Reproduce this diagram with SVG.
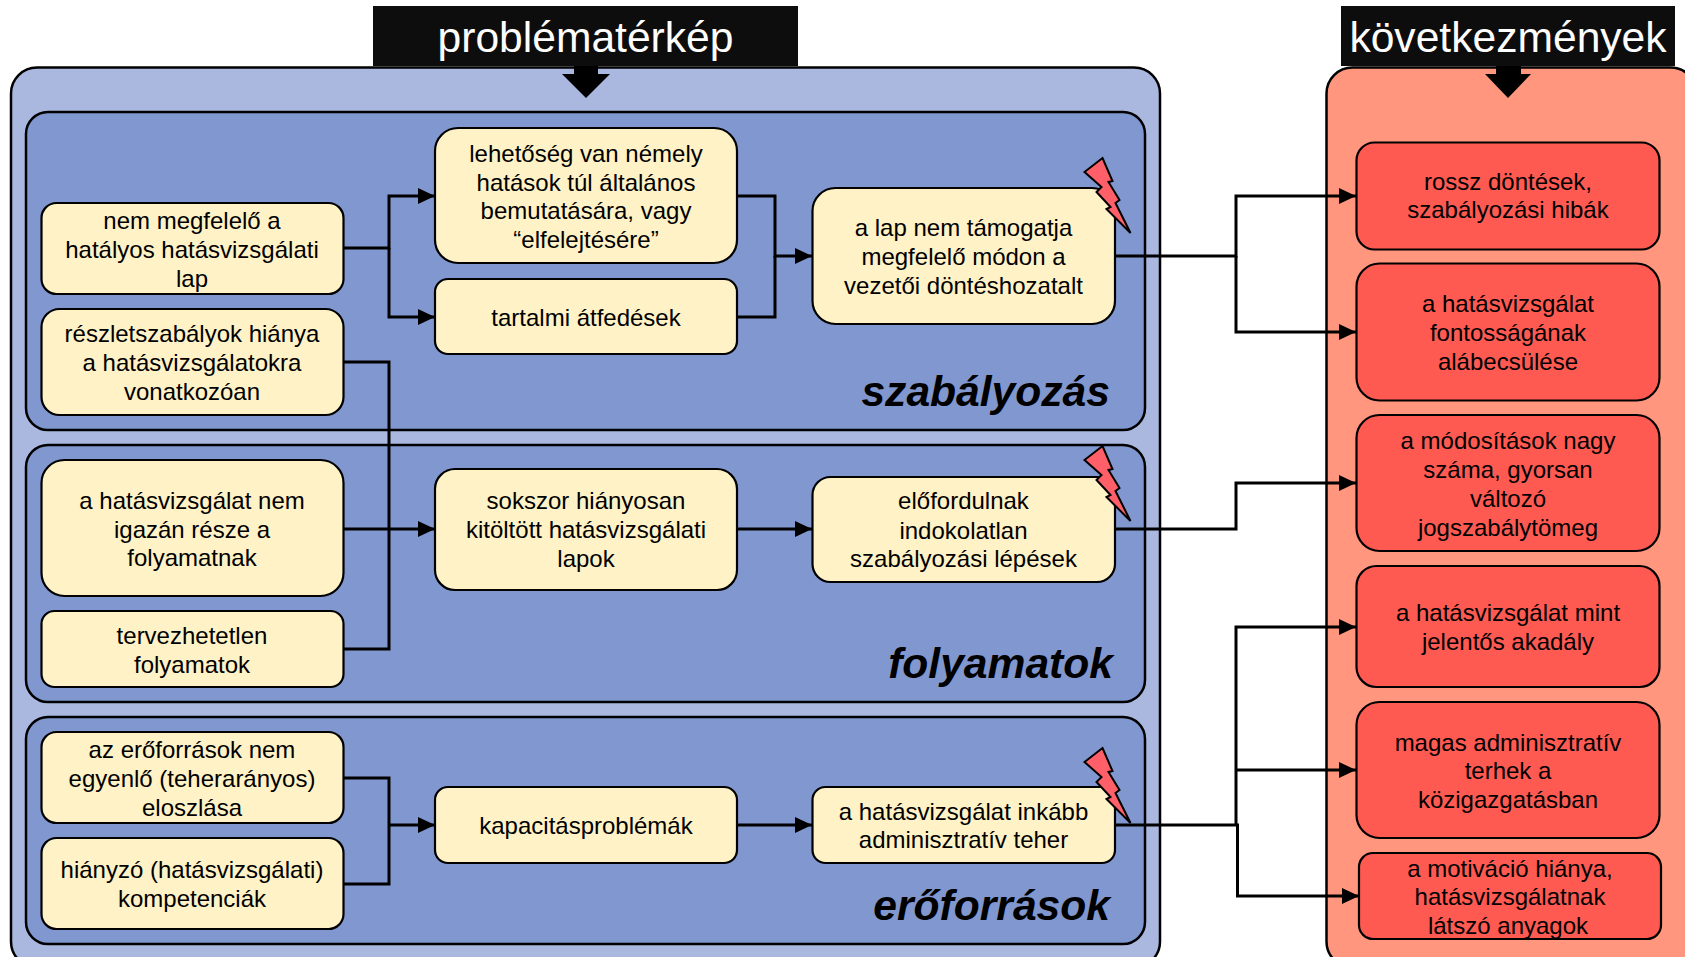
<svg xmlns="http://www.w3.org/2000/svg" width="1685" height="957" viewBox="0 0 1685 957">
<style>
text{font-family:"Liberation Sans",Arial,sans-serif;fill:#000;text-anchor:middle}
.t{font-size:24px}
.h{font-size:42.6px;fill:#fff}
.l{font-size:42.6px;font-weight:bold;font-style:italic;text-anchor:end}
.n{fill:#fff2c6;stroke:#000;stroke-width:2.2}
.c{fill:#ff5a52;stroke:#000;stroke-width:2.2}
.s{fill:#8197cf;stroke:#000;stroke-width:2.5}
.o{stroke:#000;stroke-width:2.5}
.w{fill:none;stroke:#000;stroke-width:3}
.z{fill:#ff5f68;stroke:#000;stroke-width:2;stroke-linejoin:miter}
</style>
<defs>
<marker id="a" markerUnits="userSpaceOnUse" markerWidth="18" markerHeight="16" refX="17" refY="8" orient="auto"><path d="M0 0L17 8L0 16z" fill="#000"/></marker>
<path id="bolt" d="M1102.5 158L1112.5 181L1108.5 182L1119.5 200L1115.5 203L1130.5 233L1115.5 218L1106.5 209L1110.5 207L1096.5 192L1101.5 187L1084.5 172z"/>
</defs>
<g id="panel-problem">
<rect class="o" x="11" y="67.5" width="1149" height="900" rx="26" fill="#aab8e0"/>
<rect x="373" y="6" width="425" height="60" fill="#0d0d0d"/>
<text class="h" x="585.5" y="52">problématérkép</text>
<path d="M574 66H598V74H610L586 98L562 74H574z" fill="#000"/>
</g>
<g id="panel-effects">
<rect class="o" x="1326.5" y="67.5" width="370" height="900" rx="26" fill="#ff967d"/>
<rect x="1341" y="6" width="334" height="60" fill="#0d0d0d"/>
<text class="h" x="1508" y="52">következmények</text>
<path d="M1496 66H1521V74H1531L1508 98L1485 74H1496z" fill="#000"/>
</g>
<g id="section-szabalyozas"><rect class="s" x="26" y="112" width="1119" height="318" rx="22"/><text class="l" x="1110" y="406">szabályozás</text></g>
<g id="section-folyamatok"><rect class="s" x="26" y="445" width="1119" height="257" rx="22"/><text class="l" x="1113" y="678">folyamatok</text></g>
<g id="section-eroforrasok"><rect class="s" x="26" y="717" width="1119" height="227" rx="22"/><text class="l" x="1110" y="920">erőforrások</text></g>
<g id="connectors">
<path class="w" d="M343 248H389V196H435" marker-end="url(#a)"/>
<path class="w" d="M389 248V317H435" marker-end="url(#a)"/>
<path class="w" d="M737 196H775V256H812" marker-end="url(#a)"/>
<path class="w" d="M737 317H775V256"/>
<path class="w" d="M343 362H389V649H343"/>
<path class="w" d="M343 529H435" marker-end="url(#a)"/>
<path class="w" d="M737 529H812" marker-end="url(#a)"/>
<path class="w" d="M343 778H389V884H343"/>
<path class="w" d="M389 825H435" marker-end="url(#a)"/>
<path class="w" d="M737 825H812" marker-end="url(#a)"/>
<path class="w" d="M1114 256H1236V196H1356" marker-end="url(#a)"/>
<path class="w" d="M1236 256V332H1356" marker-end="url(#a)"/>
<path class="w" d="M1114 529H1236V483H1356" marker-end="url(#a)"/>
<path class="w" d="M1114 825H1236V627H1356" marker-end="url(#a)"/>
<path class="w" d="M1236 770H1356" marker-end="url(#a)"/>
<path class="w" d="M1236 825H1237.5V896H1359" marker-end="url(#a)"/>
</g>
<g id="n1"><rect class="n" x="41.5" y="203" width="302" height="91" rx="15"/><text class="t" x="192"><tspan x="192" y="229">nem megfelelő a</tspan><tspan x="192" y="258">hatályos hatásvizsgálati</tspan><tspan x="192" y="287">lap</tspan></text></g>
<g id="n2"><rect class="n" x="41.5" y="309" width="302" height="106" rx="18"/><text class="t"><tspan x="192" y="342">részletszabályok hiánya</tspan><tspan x="192" y="371">a hatásvizsgálatokra</tspan><tspan x="192" y="400">vonatkozóan</tspan></text></g>
<g id="n3"><rect class="n" x="41.5" y="460" width="302" height="136" rx="23"/><text class="t"><tspan x="192" y="509">a hatásvizsgálat nem</tspan><tspan x="192" y="538">igazán része a</tspan><tspan x="192" y="566">folyamatnak</tspan></text></g>
<g id="n4"><rect class="n" x="41.5" y="611" width="302" height="76" rx="13"/><text class="t"><tspan x="192" y="644">tervezhetetlen</tspan><tspan x="192" y="673">folyamatok</tspan></text></g>
<g id="n5"><rect class="n" x="41.5" y="732" width="302" height="91" rx="15"/><text class="t"><tspan x="192" y="758">az erőforrások nem</tspan><tspan x="192" y="787">egyenlő (teherarányos)</tspan><tspan x="192" y="816">eloszlása</tspan></text></g>
<g id="n6"><rect class="n" x="41.5" y="838" width="302" height="91" rx="15"/><text class="t"><tspan x="192" y="878">hiányzó (hatásvizsgálati)</tspan><tspan x="192" y="907">kompetenciák</tspan></text></g>
<g id="m1"><rect class="n" x="435" y="128" width="302" height="135" rx="23"/><text class="t"><tspan x="586" y="162">lehetőség van némely</tspan><tspan x="586" y="191">hatások túl általános</tspan><tspan x="586" y="219">bemutatására, vagy</tspan><tspan x="586" y="248">“elfelejtésére”</tspan></text></g>
<g id="m2"><rect class="n" x="435" y="279" width="302" height="75" rx="13"/><text class="t" x="586" y="326">tartalmi átfedések</text></g>
<g id="m3"><rect class="n" x="435" y="469" width="302" height="121" rx="20"/><text class="t"><tspan x="586" y="509">sokszor hiányosan</tspan><tspan x="586" y="538">kitöltött hatásvizsgálati</tspan><tspan x="586" y="567">lapok</tspan></text></g>
<g id="m4"><rect class="n" x="435" y="787" width="302" height="76" rx="13"/><text class="t" x="586" y="834">kapacitásproblémák</text></g>
<g id="r1"><rect class="n" x="812.5" y="188" width="302.5" height="136" rx="23"/><text class="t"><tspan x="963.5" y="236">a lap nem támogatja</tspan><tspan x="963.5" y="265">megfelelő módon a</tspan><tspan x="963.5" y="294">vezetői döntéshozatalt</tspan></text><use href="#bolt" class="z"/></g>
<g id="r2"><rect class="n" x="812.5" y="477" width="302.5" height="105" rx="18"/><text class="t"><tspan x="963.5" y="509">előfordulnak</tspan><tspan x="963.5" y="539">indokolatlan</tspan><tspan x="963.5" y="567">szabályozási lépések</tspan></text><use href="#bolt" class="z" y="288"/></g>
<g id="r3"><rect class="n" x="812.5" y="787" width="302.5" height="76" rx="13"/><text class="t"><tspan x="963.5" y="820">a hatásvizsgálat inkább</tspan><tspan x="963.5" y="848">adminisztratív teher</tspan></text><use href="#bolt" class="z" y="590"/></g>
<g id="c1"><rect class="c" x="1356.5" y="142.5" width="303" height="107" rx="18"/><text class="t"><tspan x="1508" y="190">rossz döntések,</tspan><tspan x="1508" y="218">szabályozási hibák</tspan></text></g>
<g id="c2"><rect class="c" x="1356.5" y="263.5" width="303" height="137" rx="23"/><text class="t"><tspan x="1508" y="312">a hatásvizsgálat</tspan><tspan x="1508" y="341">fontosságának</tspan><tspan x="1508" y="370">alábecsülése</tspan></text></g>
<g id="c3"><rect class="c" x="1356.5" y="415" width="303" height="136" rx="23"/><text class="t"><tspan x="1508" y="449">a módosítások nagy</tspan><tspan x="1508" y="478">száma, gyorsan</tspan><tspan x="1508" y="507">változó</tspan><tspan x="1508" y="536">jogszabálytömeg</tspan></text></g>
<g id="c4"><rect class="c" x="1356.5" y="566" width="303" height="121" rx="20"/><text class="t"><tspan x="1508" y="621">a hatásvizsgálat mint</tspan><tspan x="1508" y="650">jelentős akadály</tspan></text></g>
<g id="c5"><rect class="c" x="1356.5" y="702" width="303" height="136" rx="23"/><text class="t"><tspan x="1508" y="751">magas adminisztratív</tspan><tspan x="1508" y="779">terhek a</tspan><tspan x="1508" y="808">közigazgatásban</tspan></text></g>
<g id="c6"><rect class="c" x="1359" y="853" width="302" height="86" rx="14"/><text class="t"><tspan x="1510" y="877">a motiváció hiánya,</tspan><tspan x="1510" y="905">hatásvizsgálatnak</tspan><tspan x="1508" y="934">látszó anyagok</tspan></text></g>
</svg>
